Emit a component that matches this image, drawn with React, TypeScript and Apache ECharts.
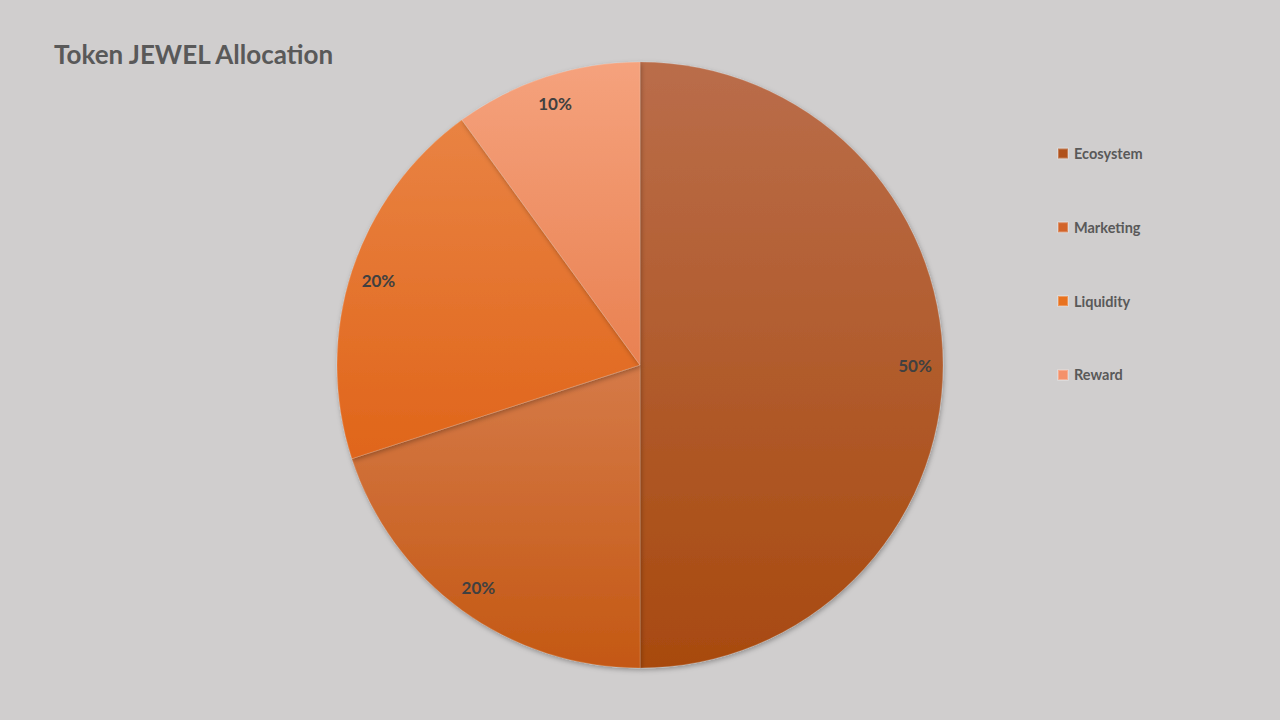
import React, { useEffect, useRef } from "react";
import * as echarts from "echarts";

const categories = ["Ecosystem", "Marketing", "Liquidity", "Reward"];
const values = [50, 20, 20, 10];
const gradTop = ["#ba6d4a", "#d57a48", "#e98343", "#f5a27d"];
const gradBottom = ["#a84a0f", "#c45813", "#e0651a", "#e98151"];
const legendColors = ["#b0521c", "#d2642a", "#e8721f", "#f4916a"];

export default function App() {
  const ref = useRef<HTMLDivElement>(null);
  useEffect(() => {
    if (!ref.current) return;
    const chart = echarts.init(ref.current, null, { renderer: "svg" });
    const font = "Lato, 'Open Sans', sans-serif";
    const data = categories.map((name, i) => ({
      name,
      value: values[i],
      itemStyle: {
        color: new echarts.graphic.LinearGradient(0, 0, 0, 1, [
          { offset: 0, color: gradTop[i] },
          { offset: 1, color: gradBottom[i] },
        ]),
      },
    }));
    chart.setOption({
      animation: false,
      backgroundColor: "#d0cece",
      title: {
        text: "Token JEWEL Allocation",
        left: 54,
        top: 41,
        padding: 0,
        textStyle: { fontFamily: font, fontWeight: "bold", fontSize: 26, color: "#595959" },
      },
      legend: {
        orient: "vertical",
        left: 1057,
        top: 146,
        padding: 0,
        itemWidth: 10,
        itemHeight: 10,
        itemGap: 58.8,
        icon: "rect",
        textStyle: { fontFamily: font, fontWeight: "bold", fontSize: 14.5, color: "#595959", padding: [0, 0, 0, 1] },
        data: categories.map((name, i) => ({ name, itemStyle: { color: legendColors[i] } })),
      },
      series: [
        {
          type: "pie",
          center: [640, 365],
          radius: 303,
          startAngle: 90,
          clockwise: true,
          silent: true,
          label: { show: false },
          labelLine: { show: false },
          itemStyle: {
            borderWidth: 0.6,
            borderColor: "rgba(255,255,255,0.25)",
            shadowBlur: 5,
            shadowOffsetX: 1,
            shadowOffsetY: 2,
            shadowColor: "rgba(0,0,0,0.3)",
          },
          data,
        },
        {
          type: "pie",
          center: [640, 365],
          radius: [241, 303],
          startAngle: 90,
          clockwise: true,
          silent: true,
          legendHoverLink: false,
          itemStyle: { color: "rgba(0,0,0,0)" },
          label: {
            show: true,
            position: "inside",
            formatter: "{d}%",
            fontFamily: font,
            fontWeight: "bold",
            fontSize: 17,
            color: "#404040",
          },
          labelLine: { show: false },
          data: categories.map((name, i) => ({ name, value: values[i] })),
        },
      ],
    });
    return () => chart.dispose();
  }, []);
  return <div ref={ref} style={{ position: "fixed", left: 0, top: 0, width: 1280, height: 720 }} />;
}
